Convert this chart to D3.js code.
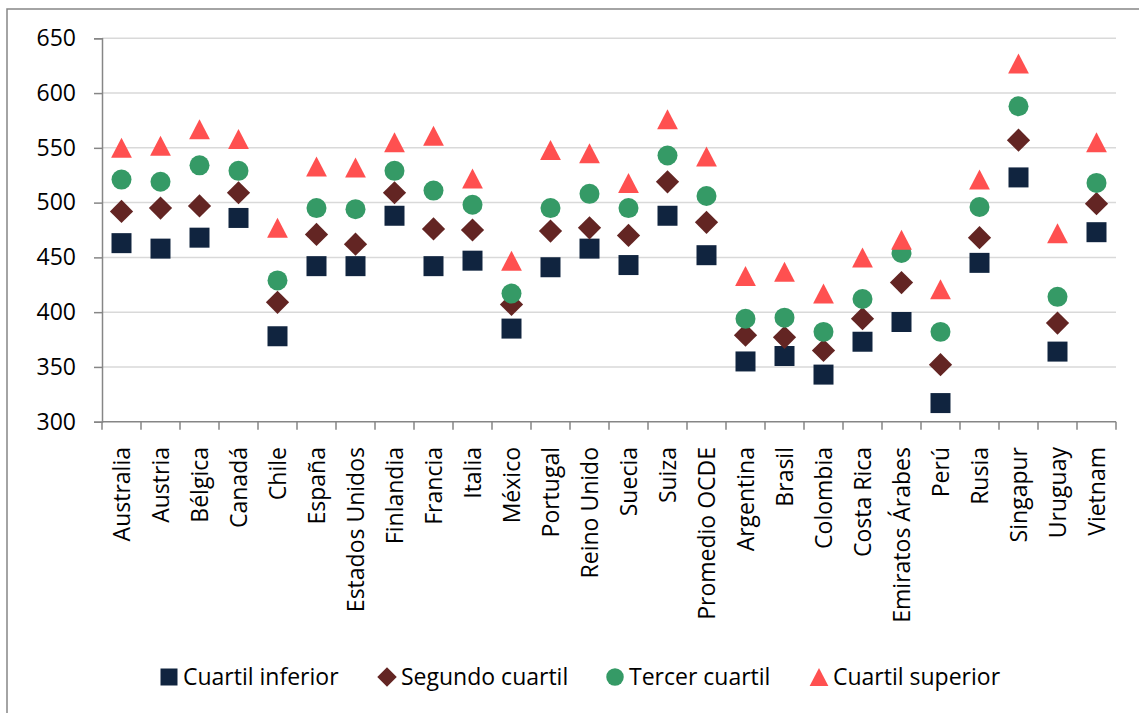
<!DOCTYPE html>
<html>
<head>
<meta charset="utf-8">
<script src="https://cdn.jsdelivr.net/npm/d3@7"></script>
<style>
  body { margin: 0; background: #fff; }
  svg { display: block; font-family: "Open Sans", sans-serif; }
</style>
</head>
<body>
<svg id="chart" width="1139" height="713"></svg>
<script>
// countries on the x axis
const categories = ["Australia", "Austria", "Bélgica", "Canadá", "Chile", "España", "Estados Unidos",
  "Finlandia", "Francia", "Italia", "México", "Portugal", "Reino Unido", "Suecia", "Suiza",
  "Promedio OCDE", "Argentina", "Brasil", "Colombia", "Costa Rica", "Emiratos Árabes", "Perú",
  "Rusia", "Singapur", "Uruguay", "Vietnam"];

// one array per quartile series
const cuartilInferior = [463, 458, 468, 486, 378, 442, 442, 488, 442, 447, 385, 441, 458, 443, 488,
  452, 355, 360, 343, 373, 391, 317, 445, 523, 364, 473];
const segundoCuartil = [492, 495, 497, 509, 409, 471, 462, 509, 476, 475, 407, 474, 477, 470, 519,
  482, 379, 377, 365, 394, 427, 352, 468, 557, 390, 499];
const tercerCuartil = [521, 519, 534, 529, 429, 495, 494, 529, 511, 498, 417, 495, 508, 495, 543,
  506, 394, 395, 382, 412, 454, 382, 496, 588, 414, 518];
const cuartilSuperior = [550, 552, 567, 558, 477, 533, 532, 555, 561, 522, 447, 548, 545, 518, 576,
  542, 433, 437, 417, 450, 466, 421, 521, 627, 472, 555];

const yTicks = [300, 350, 400, 450, 500, 550, 600, 650];

const FONT = "23px";

// custom marker shapes (excel-ish)
const squareSym = {
  draw(ctx, size) {
    const h = Math.sqrt(size) / 2;
    ctx.rect(-h, -h, h * 2, h * 2);
  }
};
const diamondSym = {
  draw(ctx, size) {
    const h = Math.sqrt(size) / 2;
    ctx.moveTo(0, -h); ctx.lineTo(h, 0); ctx.lineTo(0, h); ctx.lineTo(-h, 0); ctx.closePath();
  }
};
const triangleSym = {
  draw(ctx, size) {
    const h = Math.sqrt(size) / 2;
    ctx.moveTo(0, -h); ctx.lineTo(h * 1.04, h); ctx.lineTo(-h * 1.04, h); ctx.closePath();
  }
};

const series = [
  { name: "Cuartil inferior", values: cuartilInferior, color: "#10243f", type: squareSym, size: 400, legendSize: 289 },
  { name: "Segundo cuartil", values: segundoCuartil, color: "#632523", type: diamondSym, size: 540, legendSize: 380 },
  { name: "Tercer cuartil", values: tercerCuartil, color: "#359a66", type: d3.symbolCircle, size: 314, legendSize: 240 },
  { name: "Cuartil superior", values: cuartilSuperior, color: "#ff5050", type: triangleSym, size: 400, legendSize: 324 }
];

const svg = d3.select("#chart");

// outer chart frame, runs past the right / bottom edge like the original
svg.append("rect")
  .attr("x", 7).attr("y", 9)
  .attr("width", 1150).attr("height", 720)
  .attr("fill", "none")
  .attr("stroke", "#868686")
  .attr("stroke-width", 1.5);

const plot = { left: 102, right: 1116, top: 38.3, bottom: 421.7 };

const x = d3.scaleBand()
  .domain(categories)
  .range([plot.left, plot.right]);

const y = d3.scaleLinear()
  .domain([300, 650])
  .range([plot.bottom, plot.top]);

// gridlines
svg.append("g")
  .selectAll("line")
  .data(yTicks.slice(1))
  .join("line")
  .attr("x1", plot.left).attr("x2", plot.right)
  .attr("y1", d => y(d)).attr("y2", d => y(d))
  .attr("stroke", "#d9d9d9")
  .attr("stroke-width", 1.5);

// y axis
const yAxis = svg.append("g")
  .attr("transform", `translate(${plot.left},0)`)
  .call(d3.axisLeft(y).tickValues(yTicks).tickSize(8).tickPadding(18));
yAxis.select(".domain").attr("stroke", "#868686").attr("stroke-width", 1.5);
yAxis.selectAll(".tick line").attr("stroke", "#868686").attr("stroke-width", 1.5);
yAxis.selectAll(".tick text")
  .attr("fill", "#000")
  .attr("font-size", FONT)
  .attr("font-family", "Open Sans, sans-serif");

// x axis: line + boundary ticks (excel puts ticks between categories)
const xg = svg.append("g");
xg.append("line")
  .attr("x1", plot.left).attr("x2", plot.right)
  .attr("y1", plot.bottom).attr("y2", plot.bottom)
  .attr("stroke", "#868686").attr("stroke-width", 1.5);

const bounds = categories.map(c => x(c)).concat([x(categories[categories.length - 1]) + x.bandwidth()]);
xg.selectAll("line.tk")
  .data(bounds)
  .join("line")
  .attr("class", "tk")
  .attr("x1", d => d).attr("x2", d => d)
  .attr("y1", plot.bottom).attr("y2", plot.bottom + 8)
  .attr("stroke", "#868686").attr("stroke-width", 1.5);

xg.selectAll("text")
  .data(categories)
  .join("text")
  .attr("transform", d => `translate(${x(d) + x.bandwidth() / 2},447) rotate(-90)`)
  .attr("text-anchor", "end")
  .attr("dy", "0.36em")
  .attr("font-size", FONT)
  .attr("fill", "#000")
  .text(d => d);

// markers, drawn series by series so later ones sit on top
series.forEach(s => {
  svg.append("g")
    .selectAll("path")
    .data(s.values)
    .join("path")
    .attr("transform", (v, i) => `translate(${x(categories[i]) + x.bandwidth() / 2},${y(v)})`)
    .attr("d", d3.symbol().type(s.type).size(s.size))
    .attr("fill", s.color);
});

// legend
const legendX = [169, 387, 615, 819];
const legend = svg.append("g");
series.forEach((s, i) => {
  const g = legend.append("g").attr("transform", `translate(${legendX[i]},677)`);
  g.append("path")
    .attr("d", d3.symbol().type(s.type).size(s.legendSize))
    .attr("fill", s.color);
  g.append("text")
    .attr("x", 14)
    .attr("dy", "0.35em")
    .attr("font-size", FONT)
    .attr("fill", "#000")
    .text(s.name);
});
</script>
</body>
</html>
